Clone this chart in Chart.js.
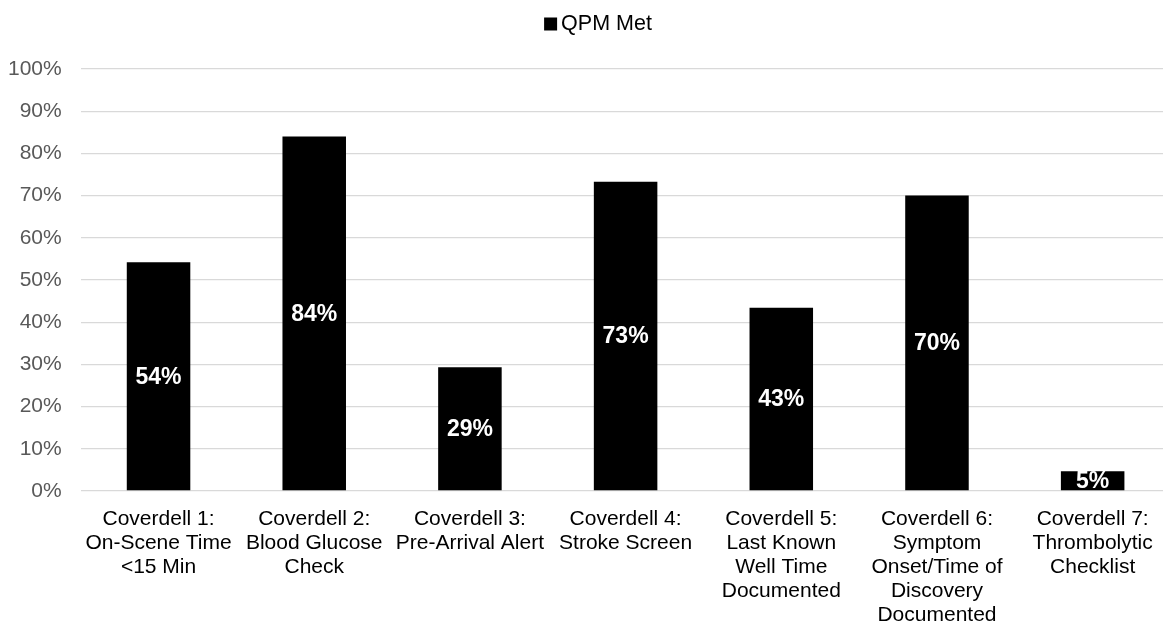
<!DOCTYPE html>
<html>
<head>
<meta charset="utf-8">
<script src="https://cdn.jsdelivr.net/npm/chart.js@4/dist/chart.umd.min.js"></script>
<style>
  html, body { margin: 0; padding: 0; background: #fff; overflow: hidden; }
  canvas { display: block; }
</style>
</head>
<body>
<canvas id="qpmChart" width="1196" height="624"></canvas>
<script>
// categories (one array per label, one string per line)
var categories = [
  ['Coverdell 1:', 'On-Scene Time', '<15 Min'],
  ['Coverdell 2:', 'Blood Glucose', 'Check'],
  ['Coverdell 3:', 'Pre-Arrival Alert'],
  ['Coverdell 4:', 'Stroke Screen'],
  ['Coverdell 5:', 'Last Known', 'Well Time', 'Documented'],
  ['Coverdell 6:', 'Symptom', 'Onset/Time of', 'Discovery', 'Documented'],
  ['Coverdell 7:', 'Thrombolytic', 'Checklist']
];
// percent of records meeting the QPM
var qpmMet = [54.2, 84.0, 29.3, 73.3, 43.4, 70.0, 4.7];
var seriesName = 'QPM Met';
var yTicks = [0, 10, 20, 30, 40, 50, 60, 70, 80, 90, 100];

var font = '"Liberation Sans", Arial, sans-serif';

// white bold value labels in the middle of each bar
var barLabels = {
  id: 'barLabels',
  afterDatasetsDraw: function(chart) {
    var ctx = chart.ctx;
    var meta = chart.getDatasetMeta(0);
    ctx.save();
    ctx.fillStyle = '#ffffff';
    ctx.font = 'bold 23px ' + font;
    ctx.textAlign = 'center';
    ctx.textBaseline = 'middle';
    meta.data.forEach(function(bar, i) {
      var mid = (bar.y + bar.base) / 2;
      ctx.fillText(Math.round(qpmMet[i]) + '%', bar.x, mid + 1);
    });
    ctx.restore();
  }
};

// legend drawn like the office one: small square then text
var smallLegend = {
  id: 'smallLegend',
  afterDraw: function(chart) {
    var ctx = chart.ctx;
    ctx.save();
    ctx.font = '21.5px ' + font;
    var tw = ctx.measureText(seriesName).width;
    var box = 13, gap = 4;
    var total = box + gap + tw;
    var x0 = 598 - total / 2;
    var cy = 24;
    ctx.fillStyle = '#000';
    ctx.fillRect(x0, cy - box / 2, box, box);
    ctx.textBaseline = 'middle';
    ctx.textAlign = 'left';
    ctx.fillText(seriesName, x0 + box + gap, cy);
    ctx.restore();
  }
};

var ctx = document.getElementById('qpmChart').getContext('2d');
var chart = new Chart(ctx, {
  type: 'bar',
  data: {
    labels: categories,
    datasets: [{
      label: seriesName,
      data: qpmMet,
      backgroundColor: '#000000',
      borderWidth: 0,
      categoryPercentage: 1,
      barPercentage: 0.408
    }]
  },
  options: {
    responsive: false,
    animation: false,
    layout: {
      padding: { top: 69, right: 25.5, bottom: 0, left: 0 }
    },
    plugins: {
      legend: { display: false },
      tooltip: { enabled: false }
    },
    scales: {
      x: {
        grid: { display: false },
        border: { display: false },
        ticks: {
          color: '#000000',
          font: { family: font, size: 21, lineHeight: 1.14 },
          padding: 8,
          maxRotation: 0,
          autoSkip: false
        },
        afterFit: function(scale) { scale.height = 133; }
      },
      y: {
        min: 0,
        max: 100,
        afterBuildTicks: function(scale) {
          scale.ticks = yTicks.map(function(v) { return { value: v }; });
        },
        grid: { color: '#d9d9d9', lineWidth: 1.3, drawTicks: false },
        border: { display: false },
        ticks: {
          color: '#595959',
          font: { family: font, size: 21 },
          padding: 19,
          callback: function(v) { return v + '%'; }
        },
        afterFit: function(scale) { scale.width = 80.7; }
      }
    }
  },
  plugins: [barLabels, smallLegend]
});
</script>
</body>
</html>
